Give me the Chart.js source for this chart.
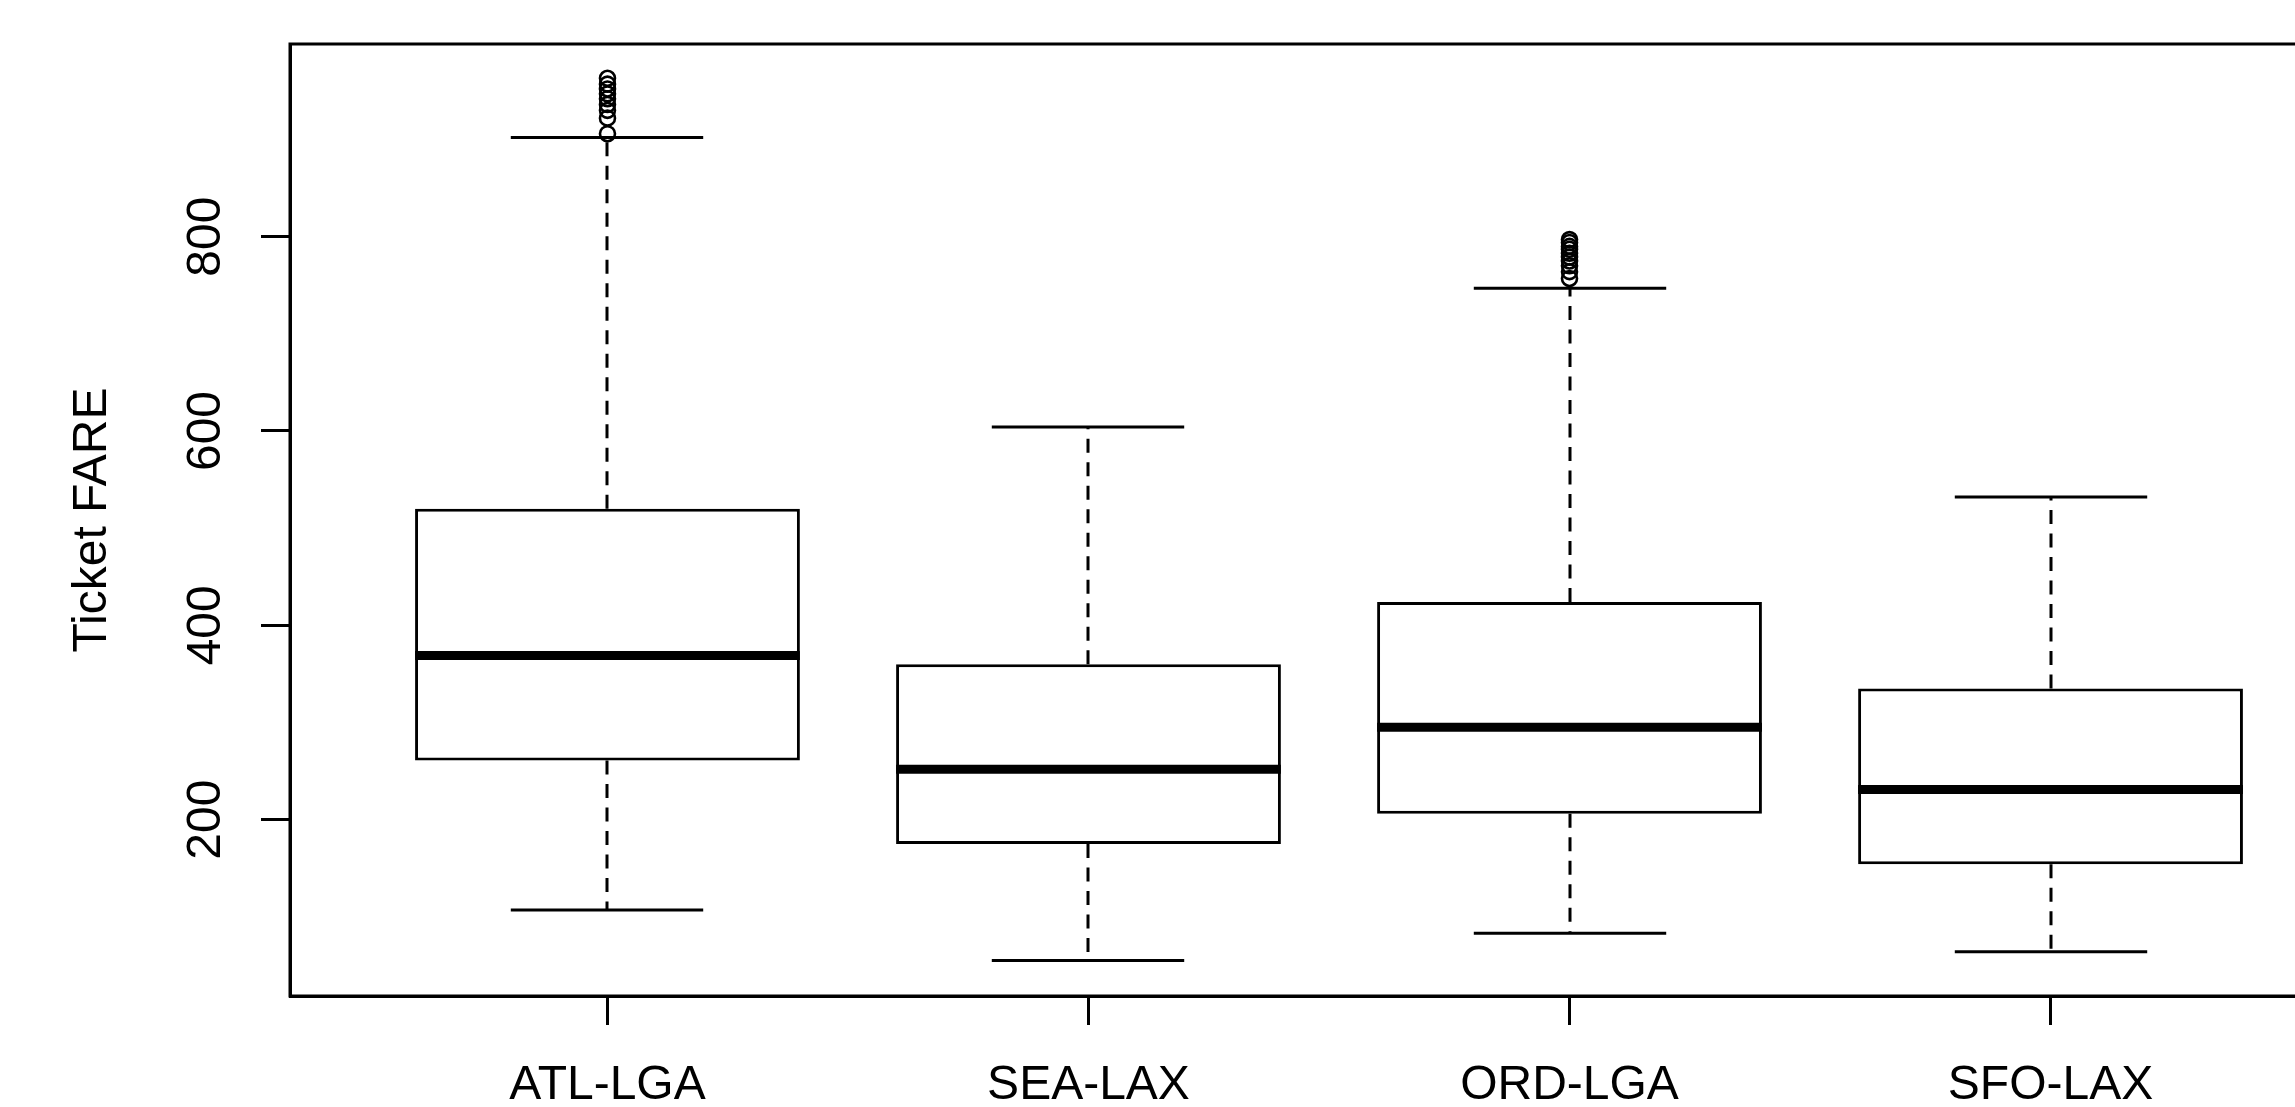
<!DOCTYPE html>
<html>
<head>
<meta charset="utf-8">
<script src="https://cdn.jsdelivr.net/npm/chart.js@4"></script>
<style>
  html, body { margin: 0; padding: 0; background: #fff; overflow: hidden; }
  #wrap { position: relative; width: 2400px; height: 1107px; }
</style>
</head>
<body>
<div id="wrap"><canvas id="c"></canvas></div>
<script>
// ---- data ----
const categories  = ["ATL-LGA", "SEA-LAX", "ORD-LGA", "SFO-LAX"];
const whiskerLow  = [107, 55, 83, 64];
const quartile1   = [261, 175, 206, 154];
const medians     = [369, 252, 295, 231];
const quartile3   = [520, 360, 424, 335];
const whiskerHigh = [902, 604, 747, 532];
const outliersATL = [906, 922, 930, 936, 942, 947, 952, 957, 963];
const outliersSEA = [];
const outliersORD = [757, 764, 770, 775, 779, 783, 787, 790, 794, 797];
const outliersSFO = [];
const yTicks      = [200, 400, 600, 800];
const yTitle      = "Ticket FARE";

// ---- derived structures ----
const positions = categories.map((_, i) => i + 1);
const outlierGroups = [outliersATL, outliersSEA, outliersORD, outliersSFO];
const boxData = positions.map((p, i) => ({ x: p, y: [quartile1[i], quartile3[i]] }));
const outlierData = [];
outlierGroups.forEach((g, i) => g.forEach(v => outlierData.push({ x: positions[i], y: v })));

const LW = 3;
const FONT = "'Liberation Sans', Arial, sans-serif";

const boxExtras = {
  id: 'boxExtras',
  beforeDatasetsDraw(chart) {
    const { ctx, scales: { y } } = chart;
    const meta = chart.getDatasetMeta(0);
    ctx.save();
    ctx.strokeStyle = '#000';
    ctx.lineWidth = LW;
    meta.data.forEach((bar, i) => {
      const cx = Math.round(bar.x);
      const half = bar.width / 4;
      const yq1 = y.getPixelForValue(quartile1[i]);
      const yq3 = y.getPixelForValue(quartile3[i]);
      const ylo = y.getPixelForValue(whiskerLow[i]);
      const yhi = y.getPixelForValue(whiskerHigh[i]);
      ctx.setLineDash([14, 9.5]);
      ctx.beginPath();
      ctx.moveTo(cx, yq3); ctx.lineTo(cx, yhi);
      ctx.moveTo(cx, yq1); ctx.lineTo(cx, ylo);
      ctx.stroke();
      ctx.setLineDash([]);
      ctx.beginPath();
      ctx.moveTo(cx - half, yhi); ctx.lineTo(cx + half, yhi);
      ctx.moveTo(cx - half, ylo); ctx.lineTo(cx + half, ylo);
      ctx.stroke();
    });
    ctx.restore();
  },
  afterDatasetsDraw(chart) {
    const { ctx, chartArea, scales: { y } } = chart;
    const meta = chart.getDatasetMeta(0);
    ctx.save();
    ctx.strokeStyle = '#000';
    ctx.lineWidth = 9;
    meta.data.forEach((bar, i) => {
      const ym = y.getPixelForValue(medians[i]);
      ctx.beginPath();
      ctx.moveTo(bar.x - bar.width / 2, ym);
      ctx.lineTo(bar.x + bar.width / 2, ym);
      ctx.stroke();
    });
    ctx.lineWidth = LW;
    ctx.strokeRect(chartArea.left, chartArea.top, chartArea.right - chartArea.left, chartArea.bottom - chartArea.top);
    ctx.restore();
  }
};

Chart.defaults.font.family = FONT;
Chart.defaults.font.size = 48;
Chart.defaults.color = '#000';

new Chart(document.getElementById('c'), {
  type: 'bar',
  data: {
    datasets: [
      {
        type: 'bar',
        data: boxData,
        backgroundColor: '#ffffff',
        borderColor: '#000000',
        borderWidth: LW,
        borderSkipped: false,
        barPercentage: 0.8,
        categoryPercentage: 1.0
      },
      {
        type: 'scatter',
        data: outlierData,
        pointStyle: 'circle',
        pointRadius: 7.5,
        pointBorderWidth: 2.6,
        pointBackgroundColor: 'rgba(0,0,0,0)',
        pointBorderColor: '#000000',
        showLine: false
      }
    ]
  },
  options: {
    responsive: true,
    maintainAspectRatio: false,
    devicePixelRatio: 1,
    animation: false,
    layout: { padding: { left: 0, top: 44, right: 32, bottom: 0 } },
    plugins: { legend: { display: false }, tooltip: { enabled: false } },
    scales: {
      x: {
        type: 'linear',
        min: 0.34,
        max: 4.66,
        offset: false,
        afterBuildTicks: (s) => { s.ticks = positions.map(v => ({ value: v })); },
        afterFit: (s) => { s.height = 111; },
        border: { display: true, color: '#000', width: LW },
        grid: { display: true, drawOnChartArea: false, drawTicks: true, tickLength: 29, color: '#000', lineWidth: LW, offset: false },
        ticks: {
          autoSkip: false, maxRotation: 0, minRotation: 0, padding: 32,
          callback: (v) => categories[Math.round(v) - 1] ?? '',
          font: { size: 48, family: FONT }
        }
      },
      y: {
        type: 'linear',
        min: 18.5,
        max: 998.3,
        afterBuildTicks: (s) => { s.ticks = yTicks.map(v => ({ value: v })); },
        afterFit: (s) => { s.width = 290; },
        border: { display: true, color: '#000', width: LW },
        grid: { display: true, drawOnChartArea: false, drawTicks: true, tickLength: 29, color: '#000', lineWidth: LW },
        title: { display: true, text: yTitle, font: { size: 48, family: FONT }, padding: { top: 64, bottom: 0 } },
        ticks: {
          autoSkip: false, minRotation: 90, maxRotation: 90, crossAlign: 'center', padding: 14,
          font: { size: 48, family: FONT }
        }
      }
    }
  },
  plugins: [boxExtras]
});
</script>
</body>
</html>
